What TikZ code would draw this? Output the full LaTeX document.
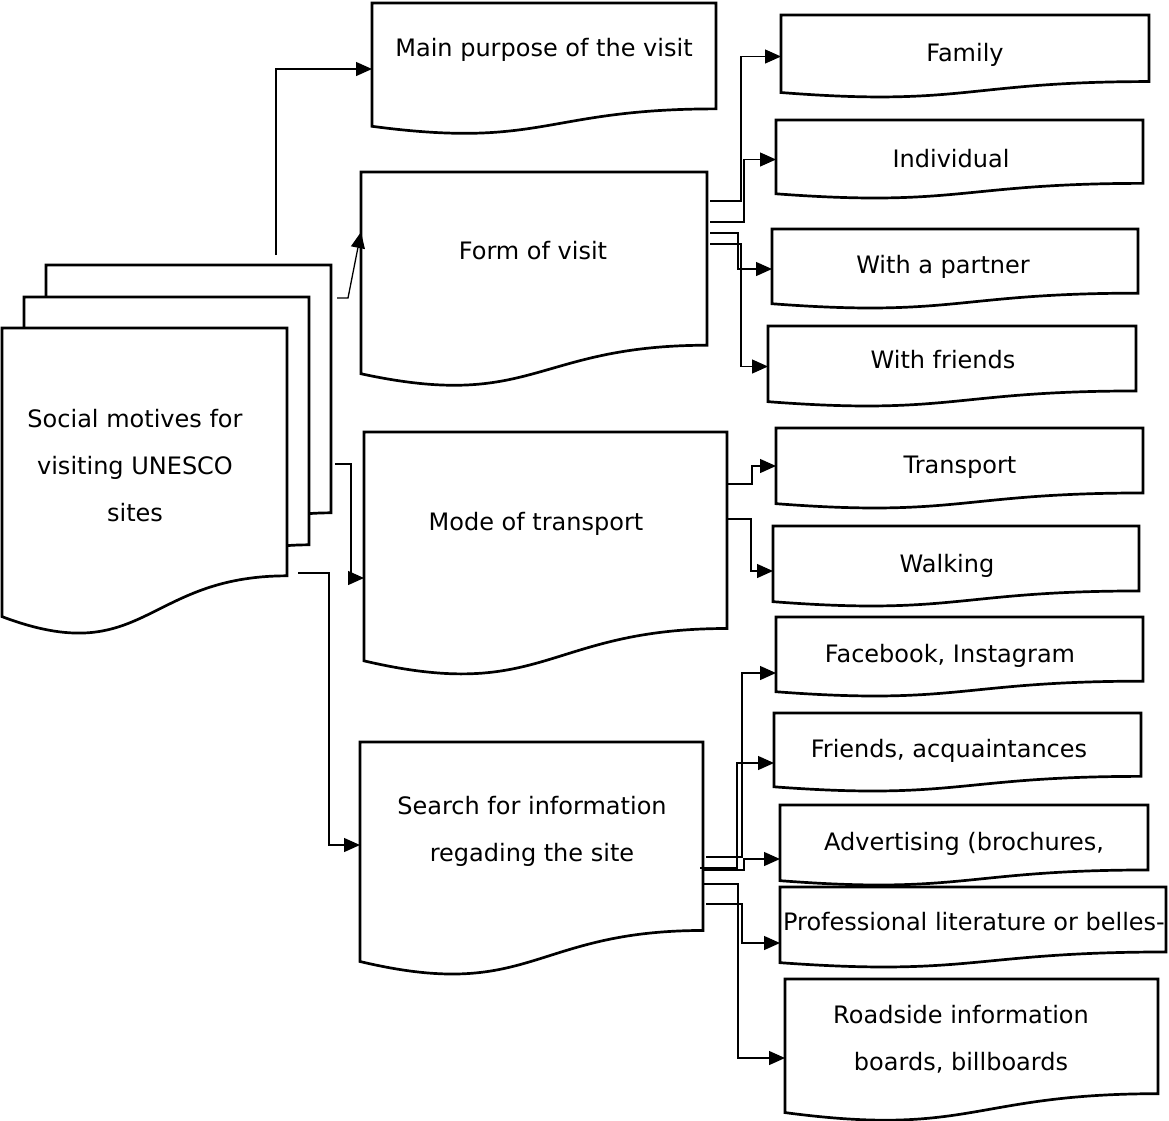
\documentclass[tikz,border=0pt]{standalone}
\usepackage{fontspec}
\setmainfont{DejaVu Sans}
\usetikzlibrary{calc, arrows.meta}
\tikzset{doc/.style 2 args={rectangle, inner sep=0pt, outer sep=0pt, anchor=north west, minimum width=#1pt, minimum height=#2pt}}
\tikzstyle{frame} = [draw, line width=2.7pt, fill=white]
\tikzstyle{txt} = [inner sep=0pt, align=center, font=\fontsize{24}{47}\selectfont]
\tikzstyle{link} = [draw, line width=1.3pt, -{Triangle[length=16pt,width=14pt]}]
% wavy-bottom document outline round a node
\newcommand{\docframe}[1]{%
  \path[frame] (#1.north west) -- (#1.north east)
    -- ($(#1.north east)!0.802!(#1.south east)$)
    .. controls ($(#1.north)!0.802!(#1.south)$) and ($(#1.north)!1.1075!(#1.south)$)
    .. ($(#1.north west)!0.934!(#1.south west)$) -- cycle;}

\begin{document}
\begin{tikzpicture}[x=1pt, y=-1pt]
\useasboundingbox (0,0) rectangle (1169,1120);

% stack of pages
\node [doc={285}{309}] (socb) at (46,265) {};
\node [doc={285}{309}] (socm) at (24,297) {};
\node [doc={285}{309}] (soc) at (2,328) {};

% second column
\node [doc={344}{132}] (main) at (372,3) {};
\node [doc={346}{216}] (form) at (361,172) {};
\node [doc={363}{245}] (mode) at (364,432) {};
\node [doc={343}{235}] (search) at (360,742) {};

% third column
\node [doc={368}{83}] (family) at (781,15) {};
\node [doc={367}{79}] (indiv) at (776,120) {};
\node [doc={366}{80}] (partner) at (772,229) {};
\node [doc={368}{81}] (friends) at (768,326) {};
\node [doc={367}{81}] (transp) at (776,428) {};
\node [doc={366}{81}] (walk) at (773,526) {};
\node [doc={367}{80}] (fb) at (776,617) {};
\node [doc={367}{79}] (fracq) at (774,713) {};
\node [doc={368}{81}] (adv) at (780,805) {};
\node [doc={386}{81}] (prof) at (780,887) {};
\node [doc={373}{143}] (road) at (785,979) {};

\foreach \n in {socb,socm,soc,main,form,mode,search,family,indiv,partner,friends,transp,walk,fb,fracq,adv,prof,road}
  {\docframe{\n}}

% texts
\node [txt] (soctxt) at (135,466) {Social motives for\\visiting UNESCO\\sites};
\node [txt, anchor=base] (maintxt) at (544,56) {Main purpose of the visit};
\node [txt, anchor=base] (formtxt) at (533,259) {Form of visit};
\node [txt, anchor=base] (modetxt) at (536,530) {Mode of transport};
\node [txt] (searchtxt) at (532,831) {Search for information\\regading the site};
\node [txt, anchor=base] (familytxt) at (965,61) {Family};
\node [txt, anchor=base] (indivtxt) at (951,167) {Individual};
\node [txt, anchor=base] (partnertxt) at (943,273) {With a partner};
\node [txt, anchor=base] (friendstxt) at (943,368) {With friends};
\node [txt, anchor=base] (transptxt) at (960,473) {Transport};
\node [txt, anchor=base] (walktxt) at (947,572) {Walking};
\node [txt, anchor=base] (fbtxt) at (950,662) {Facebook, Instagram};
\node [txt, anchor=base] (fracqtxt) at (949,757) {Friends, acquaintances};
\node [txt, anchor=base] (advtxt) at (964,850) {Advertising (brochures,};
\node [txt, anchor=base] (proftxt) at (974,930) {Professional literature or belles-};
\node [txt] (roadtxt) at (961,1039) {Roadside information\\boards, billboards};

% from the stack
\path [link] ([xshift=-55pt,yshift=10pt]socb.north east) |- (main.west);
\path [link] ([xshift=6pt,yshift=-33pt]socb.north east) -- ++(11,0) -- ([yshift=-60pt]form.north west);
\path [link] ([xshift=4pt,yshift=-199pt]socb.north east) -- ++(16,0) |- ([yshift=-146pt]mode.north west);
\path [link] ([xshift=11pt,yshift=-245pt]soc.north east) -- ++(31,0) |- ([yshift=-103pt]search.north west);

% form of visit
\path [link] ([xshift=3pt,yshift=-29pt]form.north east) -- ++(31,0) |- (family.west);
\path [link] ([xshift=3pt,yshift=-50pt]form.north east) -- ++(34,0) |- (indiv.west);
\path [link] ([xshift=3pt,yshift=-61pt]form.north east) -- ++(28,0) |- (partner.west);
\path [link] ([xshift=3pt,yshift=-72pt]form.north east) -- ++(31,0) |- (friends.west);

% mode of transport
\path [link] ([yshift=-52pt]mode.north east) -- ++(25,0) |- ([yshift=-38pt]transp.north west);
\path [link] ([yshift=-87pt]mode.north east) -- ++(24,0) |- ([yshift=-45pt]walk.north west);

% search for information
\path [link] ([xshift=3pt,yshift=-115pt]search.north east) -- ++(36,0) |- ([yshift=-56pt]fb.north west);
\path [link] ([xshift=-3pt,yshift=-126pt]search.north east) -- ++(37,0) |- ([yshift=-50pt]fracq.north west);
\path [link] ([xshift=-1pt,yshift=-128pt]search.north east) -- ++(42,0) |- ([yshift=-54pt]adv.north west);
\path [link] ([xshift=3pt,yshift=-162pt]search.north east) -- ++(36,0) |- ([yshift=-56pt]prof.north west);
\path [link] ([xshift=-1pt,yshift=-142pt]search.north east) -- ++(36,0) |- ([yshift=-79pt]road.north west);

\end{tikzpicture}
\end{document}
